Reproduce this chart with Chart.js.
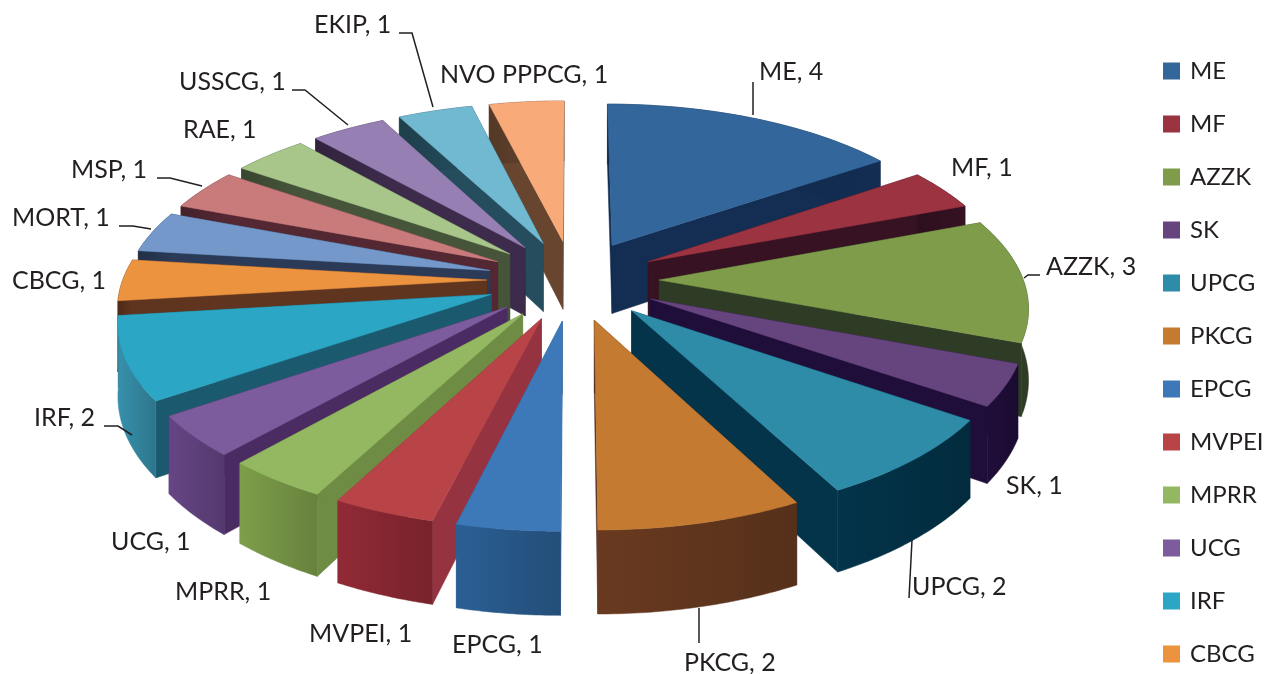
<!DOCTYPE html>
<html>
<head>
<meta charset="utf-8">
<title>Pie</title>
<script src="https://cdn.jsdelivr.net/npm/chart.js@4/dist/chart.umd.js"></script>
<style>
  html, body { margin: 0; background: #fff; }
  #wrap { width: 1265px; height: 674px; position: relative; overflow: hidden; }
</style>
</head>
<body>
<div id="wrap"><canvas id="pie"></canvas></div>
<script>
const categories = ['ME', 'MF', 'AZZK', 'SK', 'UPCG', 'PKCG', 'EPCG', 'MVPEI', 'MPRR', 'UCG', 'IRF', 'CBCG', 'MORT', 'MSP', 'RAE', 'USSCG', 'EKIP', 'NVO PPPCG'];
const values = [4, 1, 3, 1, 2, 2, 1, 1, 1, 1, 2, 1, 1, 1, 1, 1, 1, 1];

const topColors = ['#33669b', '#9c3340', '#7f9c4b', '#66457f', '#2e8ca8', '#c47a31', '#3d78b8', '#b84448', '#93b861', '#7c5c9c', '#2ba6c4', '#ec9340', '#7398c9', '#c97b7b', '#a9c68a', '#9680b3', '#70b9d1', '#f8aa78'];
const wallColors = ['#132d53', '#361223', '#2f3c25', '#200e3a', '#03344a', '#4e2b20', '#2b5f94', '#963340', '#6f8c45', '#4a2b62', '#1b5a6e', '#60351f', '#2a3a57', '#532833', '#46553a', '#3c2b4b', '#254d5d', '#67452f'];
const rimColors = ['#132d53', '#361223', '#2f3c25', '#200e3a', '#03344a', '#693a20', '#2b5f94', '#912a36', '#7e9e4a', '#664585', '#3790ab', '#60351f', '#2a3a57', '#532833', '#46553a', '#3c2b4b', '#254d5d', '#67452f'];

// label text anchor (left, middle) and leader line
const labelSpots = [
  [759, 72, [[753, 82], [753, 115]]],
  [951, 168],
  [1046, 267, [[1040, 275], [1028, 275], [1024, 278]]],
  [1006, 486],
  [912, 587, [[909, 598], [912, 540]]],
  [684, 663, [[699, 643], [699, 608]]],
  [452, 645],
  [309, 634],
  [175, 592],
  [111, 542],
  [34, 418, [[104, 426], [118, 426], [132, 435]]],
  [12, 281],
  [12, 218, [[119, 226], [133, 226], [151, 229]]],
  [71, 170, [[157, 178], [170, 178], [202, 186]]],
  [183, 130],
  [179, 82, [[292, 90], [305, 90], [348, 125]]],
  [314, 25, [[399, 33], [412, 33], [433, 107]]],
  [440, 75]
];

const LEGEND_ITEMS = 12;
const TEXT_COLOR = '#231f20';
const FONT = 'Lato, Carlito, sans-serif';

// fake 3d camera
const view = { cx: 573, cy: 280, radius: 364, tilt: 0.465, persp: 0.168, drop: 70 };

function darken(hex, f) {
  const n = parseInt(hex.slice(1), 16);
  return 'rgb(' + [(n >> 16) & 255, (n >> 8) & 255, n & 255].map(c => Math.round(c * f)).join(',') + ')';
}

function project(wx, wz, drop, depthRange) {
  const s = 1 / (1 - view.persp * wz / depthRange);
  return { x: view.cx + wx * s, y: view.cy + wz * view.tilt * s + drop * s };
}

function tracePoly(ctx, pts, color) {
  ctx.beginPath();
  pts.forEach((p, i) => i ? ctx.lineTo(p.x, p.y) : ctx.moveTo(p.x, p.y));
  ctx.closePath();
  ctx.fillStyle = color;
  ctx.fill();
  ctx.strokeStyle = color;
  ctx.lineWidth = 0.5;
  ctx.stroke();
}

const pie3d = {
  id: 'pie3d',
  afterLayout(chart) {
    // legend runs past the bottom of the picture, so push it down as a whole
    chart.legend.left = 1165 - 29;
    chart.legend.top = 30;
    chart.legend.bottom = 800;
  },
  beforeDatasetDraw(chart, args) {
    const ctx = chart.ctx;
    const arcs = chart.getDatasetMeta(args.index).data;
    const slices = arcs.map((el, i) => {
      const p = el.getProps(['startAngle', 'endAngle', 'outerRadius']);
      const k = view.radius / p.outerRadius;
      const off = el.options.offset * k;
      const a0 = p.startAngle, a1 = p.endAngle, mid = (a0 + a1) / 2;
      return { i, a0, a1, mid, ox: Math.cos(mid) * off, oz: Math.sin(mid) * off, r: view.radius, range: view.radius + off };
    }).sort((a, b) => Math.sin(a.mid) - Math.sin(b.mid));

    slices.forEach(sl => {
      const rim = (drop) => {
        const pts = [];
        for (let j = 0; j <= 40; j++) {
          const t = sl.a0 + (sl.a1 - sl.a0) * j / 40;
          pts.push(project(sl.ox + Math.cos(t) * sl.r, sl.oz + Math.sin(t) * sl.r, drop, sl.range));
        }
        return pts;
      };
      const top = rim(0), low = rim(view.drop);
      const apexTop = project(sl.ox, sl.oz, 0, sl.range);
      const apexLow = project(sl.ox, sl.oz, view.drop, sl.range);
      const n = top.length - 1;

      tracePoly(ctx, [apexTop, top[0], low[0], apexLow], wallColors[sl.i]);
      tracePoly(ctx, [apexTop, top[n], low[n], apexLow], wallColors[sl.i]);

      const grad = ctx.createLinearGradient(top[0].x, 0, top[n].x, 0);
      grad.addColorStop(0, darken(rimColors[sl.i], 0.82));
      grad.addColorStop(1, rimColors[sl.i]);
      tracePoly(ctx, top.concat(low.slice().reverse()), grad);

      tracePoly(ctx, [apexTop].concat(top), topColors[sl.i]);
    });
    return false;
  },
  afterDatasetsDraw(chart) {
    const ctx = chart.ctx;
    ctx.save();
    ctx.font = '25px ' + FONT;
    ctx.fillStyle = TEXT_COLOR;
    ctx.textAlign = 'left';
    ctx.textBaseline = 'middle';
    ctx.strokeStyle = TEXT_COLOR;
    ctx.lineWidth = 1.5;
    categories.forEach((name, i) => {
      const spot = labelSpots[i];
      ctx.fillText(name + ', ' + values[i], spot[0], spot[1]);
      if (spot[2]) {
        ctx.beginPath();
        spot[2].forEach((p, j) => j ? ctx.lineTo(p[0], p[1]) : ctx.moveTo(p[0], p[1]));
        ctx.stroke();
      }
    });
    ctx.restore();
  }
};

new Chart(document.getElementById('pie'), {
  type: 'pie',
  data: {
    labels: categories,
    datasets: [{
      data: values,
      backgroundColor: topColors,
      borderColor: topColors,
      borderWidth: 4,
      offset: 71
    }]
  },
  options: {
    responsive: true,
    maintainAspectRatio: false,
    animation: false,
    plugins: {
      tooltip: { enabled: false },
      legend: {
        position: 'right',
        align: 'start',
        labels: {
          boxWidth: 13,
          boxHeight: 13,
          padding: 29,
          color: TEXT_COLOR,
          font: { family: FONT, size: 24 },
          filter: item => item.index < LEGEND_ITEMS
        }
      }
    }
  },
  plugins: [pie3d]
});
</script>
</body>
</html>
